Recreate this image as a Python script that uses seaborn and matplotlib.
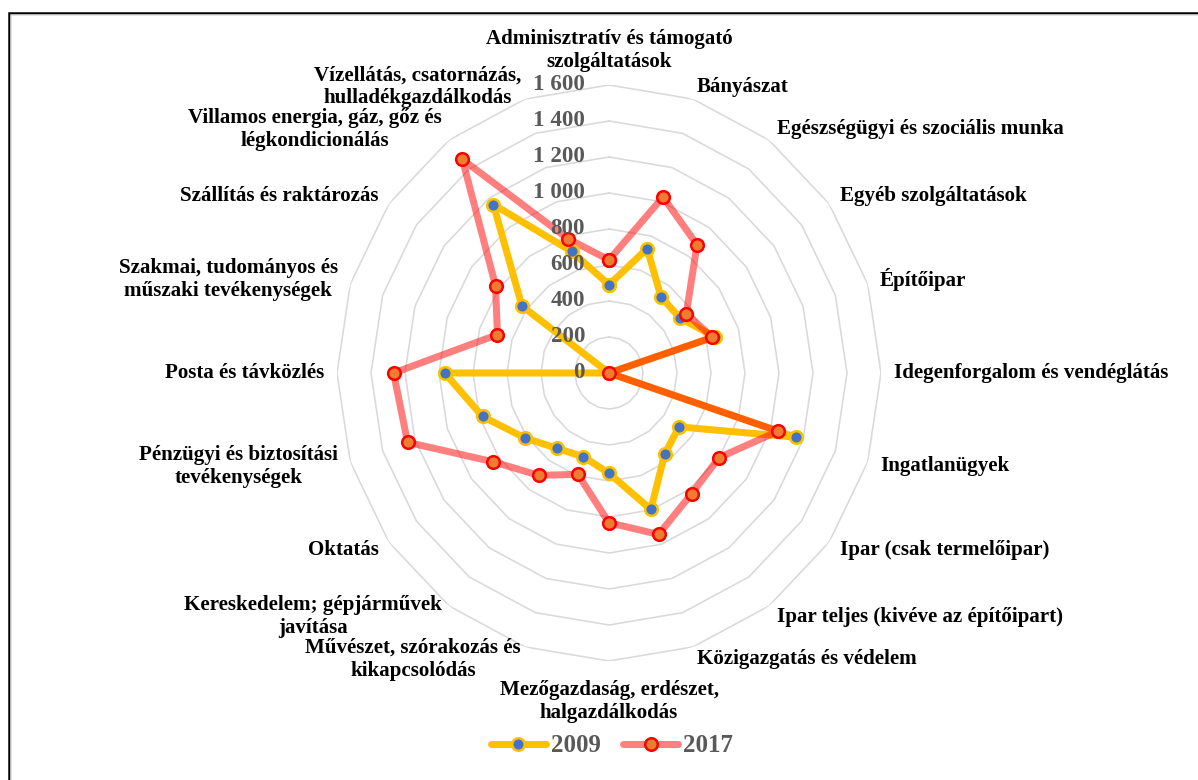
import numpy as np
import pandas as pd
import matplotlib
matplotlib.use('Agg')
import matplotlib.pyplot as plt
import seaborn as sns
from matplotlib.lines import Line2D
from matplotlib.patches import Rectangle

# categories clockwise from the top
categories = [
    "Adminisztratív és támogató\nszolgáltatások",
    "Bányászat",
    "Egészségügyi és szociális munka",
    "Egyéb szolgáltatások",
    "Építőipar",
    "Idegenforgalom és vendéglátás",
    "Ingatlanügyek",
    "Ipar (csak termelőipar)",
    "Ipar teljes (kivéve az építőipart)",
    "Közigazgatás és védelem",
    "Mezőgazdaság, erdészet,\nhalgazdálkodás",
    "Művészet, szórakozás és\nkikapcsolódás",
    "Kereskedelem; gépjárművek\njavítása",
    "Oktatás",
    "Pénzügyi és biztosítási\ntevékenységek",
    "Posta és távközlés",
    "Szakmai, tudományos és\nműszaki tevékenységek",
    "Szállítás és raktározás",
    "Villamos energia, gáz, gőz és\nlégkondicionálás",
    "Vízellátás, csatornázás,\nhulladékgazdálkodás",
]
values_2009 = [490, 727, 521, 518, 653, 0, 1155, 509, 557, 797,
               557, 489, 518, 613, 782, 967, 0, 633, 1157, 710]
values_2017 = [628, 1028, 881, 562, 640, 0, 1046, 800, 828, 943,
               832, 592, 703, 840, 1246, 1267, 690, 825, 1467, 785]
ring_ticks = [0, 200, 400, 600, 800, 1000, 1200, 1400, 1600]
tick_labels = ['0', '200', '400', '600', '800', '1 000', '1 200', '1 400', '1 600']

sns.set_theme(style='white')
plt.rcParams['font.family'] = ['Liberation Serif', 'DejaVu Serif']
plt.rcParams['font.weight'] = 'bold'

n = len(categories)
angles = np.linspace(0, 2 * np.pi, n, endpoint=False)

# long table, first point repeated to close the polygon
rows = []
for year, vals in [('2009', values_2009), ('2017', values_2017)]:
    for i in list(range(n)) + [0]:
        rows.append({'year': year, 'angle': angles[i], 'value': vals[i]})
df = pd.DataFrame(rows)
d09 = df[df.year == '2009']
d17 = df[df.year == '2017']

W, H = 1198, 780
fig = plt.figure(figsize=(W / 72, H / 72), dpi=72)
cx, cy, rx, ry = 609, 373, 272, 288
ax = fig.add_axes([(cx - rx) / W, (H - cy - ry) / H, 2 * rx / W, 2 * ry / H],
                  projection='polar')
ax.set_aspect('auto')
ax.set_theta_zero_location('N')
ax.set_theta_direction(-1)

# polygon grid rings
closed = np.append(angles, angles[0])
for lev in ring_ticks[1:]:
    ax.plot(closed, [lev] * (n + 1), color='#D9D9D9', lw=1.6, zorder=0)

sns.lineplot(data=d09, x='angle', y='value', sort=False, estimator=None,
             color='#FFC000', lw=7, ax=ax, zorder=2)
sns.lineplot(data=d17, x='angle', y='value', sort=False, estimator=None,
             color='#FF0000', alpha=0.5, lw=7, ax=ax, zorder=3)
sns.scatterplot(data=d09, x='angle', y='value', s=160, color='#4472C4',
                edgecolor='#FFC000', linewidth=2.5, ax=ax, zorder=4)
sns.scatterplot(data=d17, x='angle', y='value', s=160, color='#ED7D31',
                edgecolor='#FF0000', linewidth=2.5, ax=ax, zorder=5)

ax.set_ylim(0, 1600)
ax.set_xticks([])
ax.set_yticks([])
ax.grid(False)
ax.spines['polar'].set_visible(False)
ax.patch.set_alpha(0)
ax.set_xlabel('')
ax.set_ylabel('')

for v, lab in zip(ring_ticks, tick_labels):
    ax.annotate(lab, xy=(0, v), xytext=(-24, 0), textcoords='offset points',
                ha='right', va='center', fontsize=23, color='#595959',
                fontweight='bold', zorder=6)

# bottom label sits a little lower in the original
label_nudge = {10: (0, -6)}
pad = 13
for i, (cat, a) in enumerate(zip(categories, angles)):
    s, c = np.sin(a), np.cos(a)
    ha = 'left' if s > 1e-6 else ('right' if s < -1e-6 else 'center')
    if abs(s) < 1e-6:
        va = 'bottom' if c > 0 else 'top'
    else:
        va = 'center'
    dx, dy = label_nudge.get(i, (0, 0))
    ax.annotate(cat, xy=(a, 1600), xytext=(pad * s + dx, pad * c + dy),
                textcoords='offset points', ha=ha, va=va, fontsize=21,
                multialignment='center', linespacing=1.2, color='black',
                fontweight='bold', annotation_clip=False)

handles = [
    Line2D([], [], color='#FFC000', lw=7, marker='o', markersize=12.5,
           markerfacecolor='#4472C4', markeredgecolor='#FFC000', markeredgewidth=2.5),
    Line2D([], [], color='#FF8080', lw=7, marker='o', markersize=12.5,
           markerfacecolor='#ED7D31', markeredgecolor='#FF0000', markeredgewidth=2.5),
]
fig.legend(handles, ['2009', '2017'], loc='center', bbox_to_anchor=(612 / W, 1 - 746 / H),
           ncol=2, frameon=False, handlelength=2.2, handletextpad=0.2, columnspacing=0.9,
           prop={'size': 25, 'weight': 'bold'}, labelcolor='#595959')

# chart frame (right and bottom edges fall outside the image)
fig.add_artist(Rectangle((8.5 / W, -0.5), 2, 1.5 - 12.5 / H, transform=fig.transFigure,
                         fill=False, lw=2.5, edgecolor='black'))
fig.add_artist(Rectangle((10.5 / W, -0.5), 2, 1.5 - 14.5 / H, transform=fig.transFigure,
                         fill=False, lw=1.5, edgecolor='#D9D9D9'))

fig.savefig('out.png', dpi=72)
